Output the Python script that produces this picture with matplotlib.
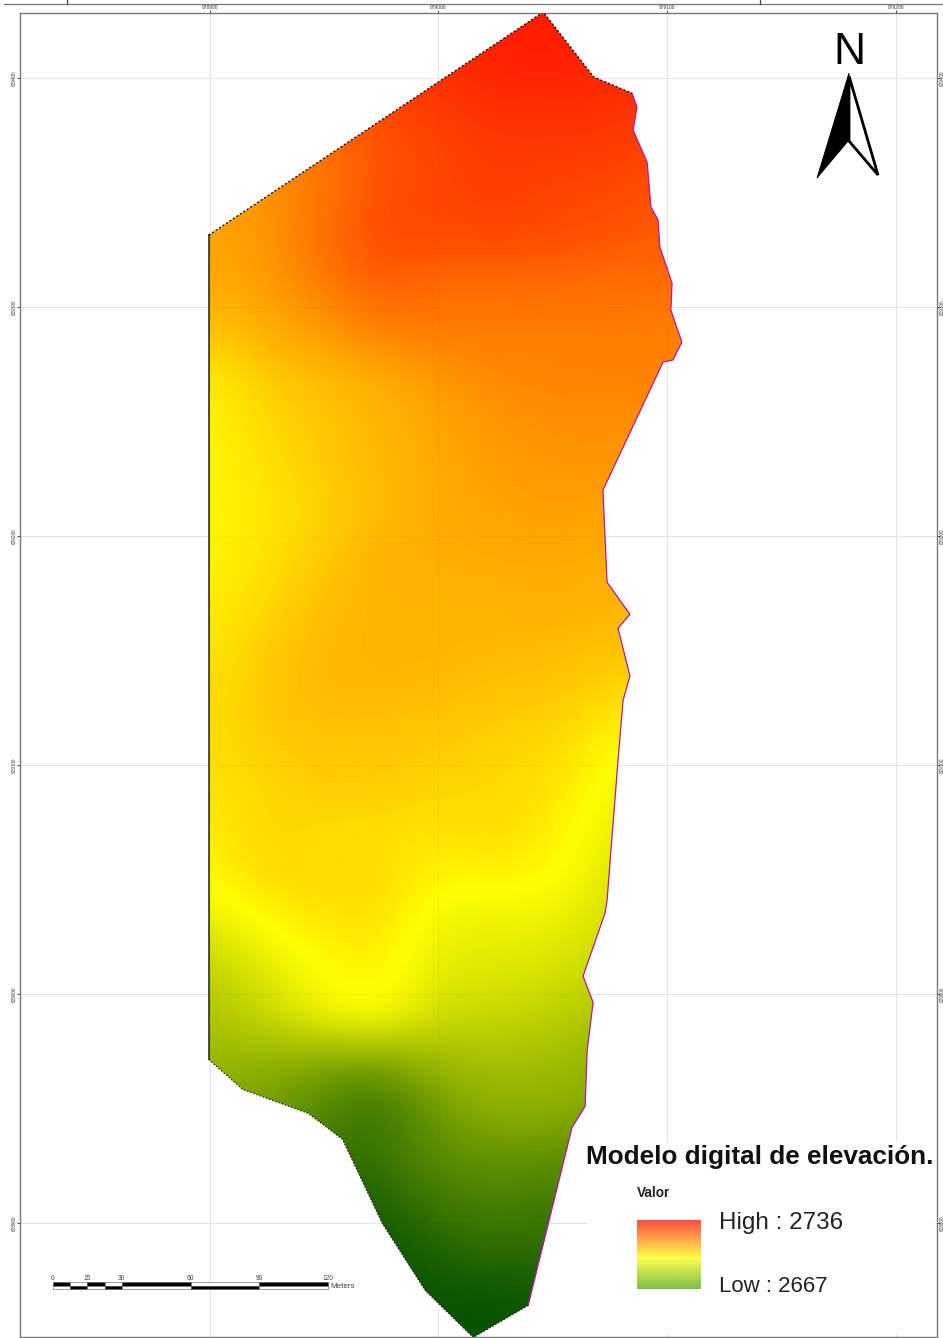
import numpy as np
import matplotlib
matplotlib.use("Agg")
import matplotlib.pyplot as plt
from matplotlib.colors import LinearSegmentedColormap
from matplotlib.patches import Polygon, Rectangle

plt.rcParams["font.family"] = ["Liberation Sans", "DejaVu Sans"]

# ==============================
# Data (metres from the 979000 / 629400 grid crossing)
# ==============================
BASE_E = 979000
BASE_N = 629400

BOUNDARY_E = [45.9, 68.0, 84.7, 86.9, 85.2, 91.3, 93.0, 96.1, 96.9, 102.2, 101.7, 106.5, 102.6, 98.3,
              72.0, 73.8, 83.8, 78.6, 83.8, 80.8, 78.6, 73.8, 72.9, 63.3, 67.7, 65.1, 64.2, 58.5, 39.3,
              15.3, -5.7, -24.5, -41.9, -56.8, -85.6, -100.4, -100.4]
BOUNDARY_N = [28.8, 0.4, -6.6, -12.7, -22.7, -36.7, -56.3, -62.0, -73.8, -89.5, -101.3, -115.3, -123.1, -124.0,
              -179.9, -220.1, -234.1, -240.2, -261.1, -271.6, -297.8, -359.0, -364.6, -392.1, -403.5, -424.5, -448.9, -458.1, -535.8,
              -549.8, -529.3, -500.0, -463.3, -452.0, -441.5, -428.4, -68.6]

GRID_E = [-100, -75, -50, -25, 0, 25, 50, 75, 100]
GRID_N = [30, 10, -10, -30, -50, -70, -90, -110, -130, -150, -170, -190, -210, -230, -250, -270,
          -290, -310, -330, -350, -370, -390, -410, -430, -450, -470, -490, -510, -530, -550, -570]
ELEVATION = [
    [2730, 2731, 2732, 2733, 2734, 2735.5, 2735.5, 2735, 2734],
    [2726, 2728, 2730, 2732, 2733, 2735, 2735, 2735, 2734],
    [2722, 2724, 2727, 2730, 2732, 2733.5, 2733.5, 2733, 2732],
    [2720, 2722, 2724, 2728, 2730, 2731.5, 2731.5, 2731.5, 2730],
    [2717, 2719, 2723, 2729, 2730, 2731.5, 2730, 2729.5, 2728],
    [2717, 2719, 2725, 2729.5, 2729, 2729.5, 2729, 2728, 2727],
    [2716, 2718, 2722.5, 2727, 2725, 2725, 2725, 2724.5, 2724.5],
    [2713, 2716, 2718.5, 2722.5, 2722.5, 2722.5, 2722, 2722.5, 2722],
    [2707, 2712, 2714, 2716, 2719, 2721, 2722, 2722, 2722],
    [2706, 2710, 2712.5, 2715, 2717, 2719, 2720, 2720, 2720],
    [2706, 2709, 2712, 2714.5, 2716.5, 2718, 2719, 2719, 2719],
    [2706, 2708, 2711, 2714, 2716.5, 2717, 2718, 2717, 2717],
    [2706, 2709, 2712, 2716, 2716, 2716.5, 2716.5, 2716, 2716],
    [2707, 2710, 2714, 2715, 2715, 2715, 2716, 2715, 2715],
    [2708, 2712, 2714.5, 2715, 2715, 2714.5, 2714, 2713, 2713],
    [2709, 2712.5, 2714.5, 2714.5, 2714, 2712.5, 2712.5, 2710, 2708],
    [2709, 2712, 2712.5, 2712, 2712, 2711, 2710, 2706, 2703],
    [2708.5, 2710, 2712, 2712, 2710.5, 2710, 2709, 2704, 2700],
    [2707, 2711, 2709, 2709, 2708, 2710, 2707, 2702, 2696],
    [2705, 2710, 2710, 2710, 2706, 2706, 2705.5, 2700.5, 2695],
    [2700.5, 2705, 2708, 2709, 2702, 2702, 2702, 2698, 2694],
    [2695, 2700.5, 2705, 2707, 2700.5, 2700, 2699, 2696, 2692],
    [2692, 2696.5, 2703, 2705.5, 2697, 2696.5, 2695, 2692, 2688],
    [2689, 2688, 2685, 2684, 2690, 2691, 2690.5, 2688, 2686],
    [2685, 2684, 2679, 2674, 2684, 2688, 2687.5, 2686, 2684],
    [2682, 2680, 2674, 2675, 2680.5, 2682, 2681.5, 2680, 2680],
    [2675, 2672, 2668, 2671, 2676, 2677.5, 2676, 2675, 2675],
    [2670, 2668, 2667, 2668, 2671.5, 2674, 2673, 2672, 2672],
    [2667, 2667, 2667, 2667, 2668, 2668, 2669, 2670, 2670],
    [2667, 2667, 2667, 2667, 2667, 2667, 2667, 2668, 2668],
    [2667, 2667, 2667, 2667, 2667, 2667, 2667, 2667, 2667],
]

X_TICKS = [978900, 979000, 979100, 979200]
Y_TICKS = [629400, 629300, 629200, 629100, 629000, 628900]

SCALE_LABELS = [0, 15, 30, 60, 90, 120]
SCALE_BREAKS = [0, 7.5, 15, 22.5, 30, 60, 90, 120]

ELEV_LOW = 2667
ELEV_HIGH = 2736

# ==============================
# Figure
# ==============================
W, H = 943, 1338
fig = plt.figure(figsize=(W / 100, H / 100), dpi=100, facecolor="white")

# map frame, pixels: left 20, right 937, top 13, bottom 1337
ax = fig.add_axes([20 / W, 1 - 1337 / H, 917 / W, 1324 / H])

map_cmap = LinearSegmentedColormap.from_list(
    "dem", [(0.0, "#065200"), (0.55, "#ffff00"), (1.0, "#ff1a00")])
legend_cmap = LinearSegmentedColormap.from_list(
    "dem_legend", [(0.0, "#7cbf4c"), (0.45, "#ffff4c"), (1.0, "#ff4f45")])

east = BASE_E + np.array(BOUNDARY_E)
north = BASE_N + np.array(BOUNDARY_N)
outline = np.column_stack([east, north])

grid_e = BASE_E + np.array(GRID_E)
grid_n = BASE_N + np.array(GRID_N)
extent = [grid_e[0] - 12.5, grid_e[-1] + 12.5, grid_n[-1] - 10, grid_n[0] + 10]

ax.set_axisbelow(True)
ax.grid(True, color="#e4e4e4", lw=0.7)

im = ax.imshow(np.array(ELEVATION, dtype=float), extent=extent, cmap=map_cmap, vmin=ELEV_LOW, vmax=ELEV_HIGH,
               interpolation="bicubic", interpolation_stage="data", aspect="auto", zorder=2)
clip = Polygon(outline, closed=True, transform=ax.transData)
im.set_clip_path(clip)
ax.set_xlim(BASE_E - 182.9, BASE_E + 218.06)
ax.set_ylim(BASE_N - 549.6, BASE_N + 28.4)

# grid shows only faintly through the raster
for v in X_TICKS:
    ln = ax.axvline(v, color="black", alpha=0.04, lw=0.7, zorder=2.5)
    ln.set_clip_path(clip)
for v in Y_TICKS:
    ln = ax.axhline(v, color="black", alpha=0.04, lw=0.7, zorder=2.5)
    ln.set_clip_path(clip)

# edge of the raster: magenta fringe on the right, stair-stepped black elsewhere
ax.plot(east[2:29], north[2:29], color="#b5179e", lw=0.9, zorder=3)
ax.plot(east[[-2, -1]], north[[-2, -1]], color="#222222", lw=1.1, zorder=3)
ax.plot(east[[-1, 0, 1, 2]], north[[-1, 0, 1, 2]], color="#111111", lw=1.0, ls=(0, (1.5, 1.5)), zorder=3)
ax.plot(east[28:-1], north[28:-1], color="#222222", lw=0.8, ls=(0, (1.5, 1.5)), zorder=3)

ax.set_xticks(X_TICKS)
ax.set_yticks(Y_TICKS)
ax.set_xticklabels([str(v) for v in X_TICKS], fontsize=3.5, color="#333333")
ax.set_yticklabels([str(v) for v in Y_TICKS], fontsize=3.3, color="#333333", rotation=90, va="center")
ax.tick_params(top=True, right=True, labeltop=True, labelright=True, labelbottom=False,
               length=2.0, width=0.8, color="#555555", pad=0.3)
for side in ax.spines.values():
    side.set_color("#777777")
    side.set_linewidth(1.0)

# ==============================
# Overlay in pixel coordinates: north arrow, scale bar, legend
# ==============================
deco = fig.add_axes([0, 0, 1, 1], facecolor="none")
deco.set_xlim(0, W)
deco.set_ylim(H, 0)
deco.axis("off")

# outer frame line at the very top of the sheet
deco.plot([4, W], [3.5, 3.5], color="#777777", lw=0.9)
for px in [67, 760]:
    deco.plot([px, px], [0, 3.5], color="#444444", lw=0.9)

# north arrow
deco.text(849, 63.5, "N", fontsize=32, ha="center", va="baseline", color="black")
deco.add_patch(Polygon([(849, 73), (817, 178), (849, 140)], closed=True, fc="black", ec="black", lw=0.6))
deco.add_patch(Polygon([(849, 76), (878, 175), (849, 141)], closed=True, fc="white", ec="black", lw=2.0))

# scale bar
metre_px = 275 / 120
bar_x0, bar_top, bar_mid, bar_bottom = 53, 1282, 1285.7, 1289
for i in range(len(SCALE_BREAKS) - 1):
    x0 = bar_x0 + SCALE_BREAKS[i] * metre_px
    w = (SCALE_BREAKS[i + 1] - SCALE_BREAKS[i]) * metre_px
    top_fc, low_fc = ("black", "white") if i % 2 == 0 else ("white", "black")
    deco.add_patch(Rectangle((x0, bar_top), w, bar_mid - bar_top, fc=top_fc, ec="#555555", lw=0.4))
    deco.add_patch(Rectangle((x0, bar_mid), w, bar_bottom - bar_mid, fc=low_fc, ec="#555555", lw=0.4))
for v in SCALE_LABELS:
    deco.text(bar_x0 + v * metre_px, 1279.5, str(v), fontsize=4.8, ha="center", va="baseline", color="#444444")
deco.text(330, 1288.5, "Meters", fontsize=5.8, ha="left", va="baseline", color="#444444")

# legend block covers the grid lines
deco.add_patch(Rectangle((587, 1142), 348, 192, fc="white", ec="none", zorder=1))
deco.text(586, 1164, "Modelo digital de elevación.", fontsize=18.8, fontweight="bold", ha="left", va="baseline",
          color="#111111", zorder=2)
deco.text(637, 1197, "Valor", fontsize=9.8, fontweight="bold", ha="left", va="baseline", color="#222222", zorder=2)
deco.text(719, 1229, f"High : {ELEV_HIGH}", fontsize=17.5, ha="left", va="baseline", color="#222222", zorder=2)
deco.text(719, 1292, f"Low : {ELEV_LOW}", fontsize=16, ha="left", va="baseline", color="#222222", zorder=2)

ramp = np.linspace(ELEV_HIGH, ELEV_LOW, 128).reshape(-1, 1)
deco.imshow(ramp, extent=[637, 700.5, 1289, 1220], cmap=legend_cmap, vmin=ELEV_LOW, vmax=ELEV_HIGH,
            aspect="auto", zorder=2)
deco.set_xlim(0, W)
deco.set_ylim(H, 0)

fig.savefig("out.png", dpi=100)
